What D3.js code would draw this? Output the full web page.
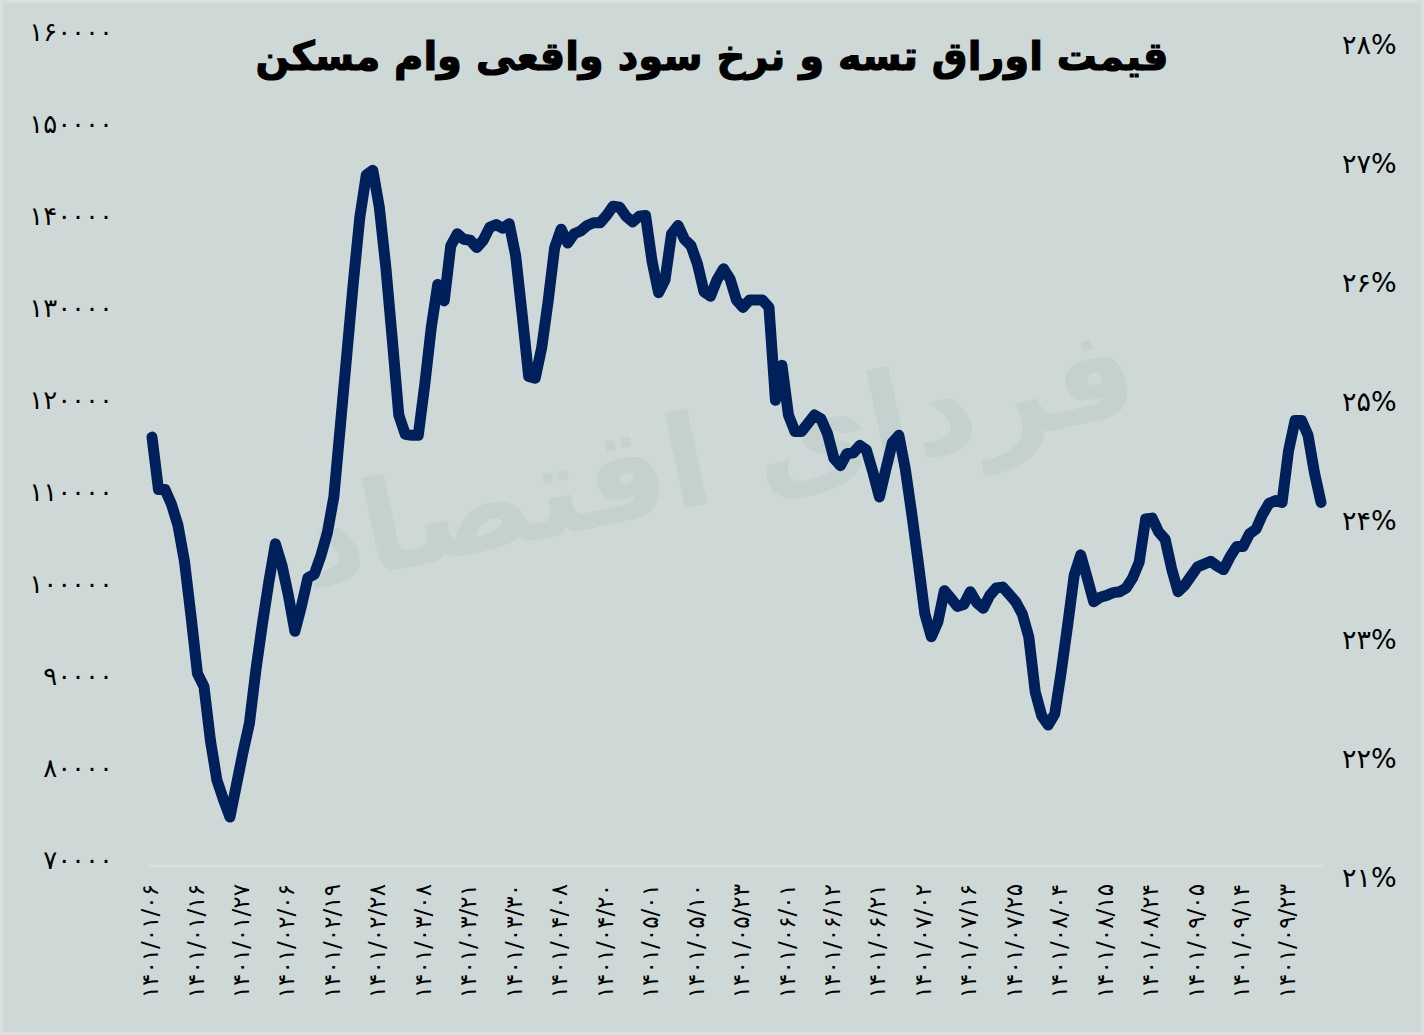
<!DOCTYPE html>
<html>
<head>
<meta charset="utf-8">
<script src="https://cdn.jsdelivr.net/npm/d3@7"></script>
<style>
  html, body { margin: 0; padding: 0; background: #dcdfde; }
  svg { display: block; }
</style>
</head>
<body>
<svg id="chart" width="1424" height="1035"></svg>
<script>
// ---------- data ----------
const titleText = "قیمت اوراق تسه و نرخ سود واقعی وام مسکن";
const watermarkText = "فردای اقتصاد";

const dateLabels = [
  "۱۴۰۱/۰۱/۰۶","۱۴۰۱/۰۱/۱۶","۱۴۰۱/۰۱/۲۷","۱۴۰۱/۰۲/۰۶","۱۴۰۱/۰۲/۱۹","۱۴۰۱/۰۲/۲۸",
  "۱۴۰۱/۰۳/۰۸","۱۴۰۱/۰۳/۲۱","۱۴۰۱/۰۳/۳۰","۱۴۰۱/۰۴/۰۸","۱۴۰۱/۰۴/۲۰","۱۴۰۱/۰۵/۰۱",
  "۱۴۰۱/۰۵/۱۰","۱۴۰۱/۰۵/۲۳","۱۴۰۱/۰۶/۰۱","۱۴۰۱/۰۶/۱۲","۱۴۰۱/۰۶/۲۱","۱۴۰۱/۰۷/۰۲",
  "۱۴۰۱/۰۷/۱۶","۱۴۰۱/۰۷/۲۵","۱۴۰۱/۰۸/۰۴","۱۴۰۱/۰۸/۱۵","۱۴۰۱/۰۸/۲۴","۱۴۰۱/۰۹/۰۵",
  "۱۴۰۱/۰۹/۱۴","۱۴۰۱/۰۹/۲۳"
];
const labelEvery = 7; // one date label every 7 trading days

// TSE bond price, one value per trading day
const priceValues = [
  116400,110700,110700,109100,106800,102900,97000,90700,89300,83400,
  79100,77000,75100,78600,82100,85300,91100,96100,100700,104800,
  102500,99200,95300,98000,101100,101500,103500,106000,109900,117600,
  125400,133200,140300,144900,145400,141400,134900,127000,118800,116700,
  116600,116600,122100,128300,133000,131200,137200,138500,137900,137800,
  137000,137800,139200,139500,139100,139600,136100,129700,123000,122800,
  126100,131200,137000,139000,137500,138500,138800,139400,139700,139700,
  140500,141500,141400,140400,139800,140400,140500,135500,132100,133500,
  138500,139400,137900,137200,135200,132200,131700,133500,134700,133600,
  131300,130500,131300,131300,131300,130500,120400,124200,118800,117000,
  117000,117900,118800,118400,116800,114100,113300,114600,114700,115500,
  115000,112600,109900,112900,115800,116600,112900,108000,102700,97200,
  94700,96300,99700,98900,98000,98200,99600,98400,97800,99200,
  100000,100100,99300,98500,97200,94700,88700,86100,85100,86300,
  90900,96000,101400,103600,101100,98500,99000,99200,99500,99600,
  100000,101100,102800,107500,107600,106100,105300,102100,99600,100300,
  101300,102300,102600,102900,102400,102000,103400,104500,104500,105900,
  106400,108000,109200,109500,109300,114900,118200,118200,116600,112500,
  109300
];

const leftTicks = [70000,80000,90000,100000,110000,120000,130000,140000,150000,160000];
const rightTicks = [21,22,23,24,25,26,27,28];

// ---------- helpers ----------
const faDigits = "۰۱۲۳۴۵۶۷۸۹";
const toFa = s => String(s).replace(/[0-9]/g, d => faDigits[+d]);

// ---------- drawing ----------
const svg = d3.select("#chart");
const FONT = "'DejaVu Sans', sans-serif";

svg.append("rect").attr("x", 3).attr("y", 3).attr("width", 1418).attr("height", 1029)
  .attr("fill", "#ced9d7");

// watermark
svg.append("text")
  .attr("x", 0).attr("y", 0)
  .attr("transform", "translate(725,500) rotate(-12)")
  .attr("text-anchor", "middle")
  .attr("direction", "rtl")
  .attr("font-family", FONT)
  .attr("font-weight", "bold")
  .attr("font-size", 128)
  .attr("fill", "#c5d1ce")
  .text(watermarkText);

const x = d3.scaleLinear().domain([0, priceValues.length - 1]).range([152, 1321]);
const yL = d3.scaleLinear().domain([70000, 160000]).range([864, 36]);
const yR = d3.scaleLinear().domain([21, 28]).range([878, 45]);

// x axis baseline
svg.append("line")
  .attr("x1", x(0) - 3).attr("x2", x(priceValues.length - 1) + 2)
  .attr("y1", 866).attr("y2", 866)
  .attr("stroke", "#dde0df").attr("stroke-width", 2);

// left axis
const leftAxis = d3.axisLeft(yL).tickValues(leftTicks).tickSize(0).tickPadding(0)
  .tickFormat(d => toFa(d));
const gL = svg.append("g").attr("transform", "translate(113,-4)").call(leftAxis);
gL.select(".domain").remove();
gL.selectAll("text").attr("font-family", FONT).attr("font-size", 26).attr("fill", "#000")
  .attr("direction", "ltr");

// right axis
const rightAxis = d3.axisRight(yR).tickValues(rightTicks).tickSize(0).tickPadding(0)
  .tickFormat(d => toFa(d) + "%");
const gR = svg.append("g").attr("transform", "translate(1342,0)").call(rightAxis);
gR.select(".domain").remove();
gR.selectAll("text").attr("font-family", FONT).attr("font-size", 27).attr("fill", "#000")
  .attr("direction", "ltr");

// bottom axis: labels every 7 trading days
const labelIdx = dateLabels.map((d, i) => i * labelEvery);
const bottomAxis = d3.axisBottom(x).tickValues(labelIdx).tickSize(0)
  .tickFormat((d, i) => dateLabels[i]);
const gB = svg.append("g").attr("transform", "translate(0,884)").call(bottomAxis);
gB.select(".domain").remove();
gB.selectAll(".tick").attr("transform", d => `translate(${x(d) - 2},0)`);
gB.selectAll("text")
  .attr("font-family", FONT).attr("font-size", 23).attr("fill", "#000")
  .attr("direction", "ltr")
  .attr("text-anchor", "end")
  .attr("x", 0).attr("y", 0).attr("dx", 0).attr("dy", "0.35em")
  .attr("transform", "rotate(-90)");

// line
const line = d3.line().x((d, i) => x(i)).y(d => yL(d));
svg.append("path")
  .datum(priceValues)
  .attr("d", line)
  .attr("fill", "none")
  .attr("stroke", "#00205c")
  .attr("stroke-width", 11)
  .attr("stroke-linejoin", "round")
  .attr("stroke-linecap", "round");

// title
svg.append("text")
  .attr("x", 712).attr("y", 70)
  .attr("text-anchor", "middle")
  .attr("direction", "rtl")
  .attr("font-family", FONT)
  .attr("font-weight", "bold")
  .attr("font-size", 40)
  .attr("fill", "#000")
  .attr("stroke", "#000")
  .attr("stroke-width", 1.2)
  .text(titleText);
</script>
</body>
</html>
